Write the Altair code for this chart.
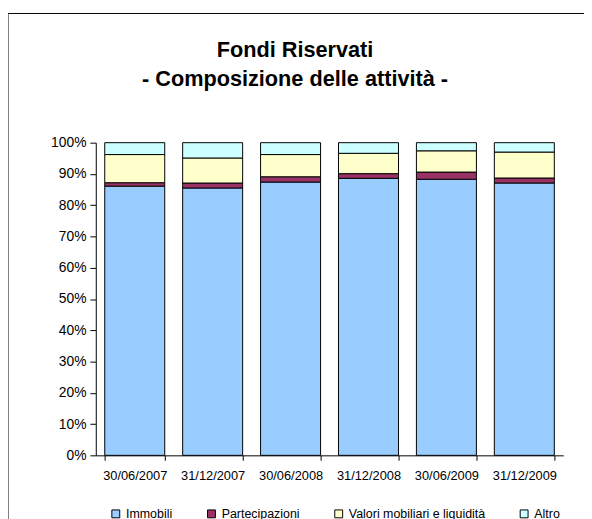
import altair as alt
import pandas as pd

DATES = ["30/06/2007", "31/12/2007", "30/06/2008", "31/12/2008", "30/06/2009", "31/12/2009"]
SERIES = ["Immobili", "Partecipazioni", "Valori mobiliari e liquidità", "Altro"]
IMMOBILI = [86.1, 85.5, 87.4, 88.6, 88.3, 87.1]
PARTECIPAZIONI = [1.1, 1.6, 1.7, 1.5, 2.3, 1.6]
VALORI = [9.0, 8.0, 7.1, 6.5, 6.8, 8.3]
ALTRO = [3.8, 4.9, 3.8, 3.4, 2.6, 3.0]
COLORS = ["#99CCFF", "#993366", "#FFFFCC", "#CCFFFF"]
TITLE_LINES = ["Fondi Riservati", "- Composizione delle attività -"]
Y_TICKS = [0, 0.1, 0.2, 0.3, 0.4, 0.5, 0.6, 0.7, 0.8, 0.9, 1.0]

rows = []
for s_i, (name, vals) in enumerate(zip(SERIES, [IMMOBILI, PARTECIPAZIONI, VALORI, ALTRO])):
    for d, v in zip(DATES, vals):
        rows.append({"data": d, "serie": name, "quota": v / 100.0, "ordine": s_i})
df = pd.DataFrame(rows)

FONT = "Liberation Sans"

bars = alt.Chart(df).mark_bar(stroke="black", strokeWidth=1).encode(
    x=alt.X("data:N", sort=DATES, title=None,
            scale=alt.Scale(paddingInner=0.23, paddingOuter=0.115),
            axis=alt.Axis(labelAngle=0, tickBand="extent", labelFontSize=13,
                          labelFont=FONT, labelColor="black", domainColor="black",
                          tickColor="black", tickSize=5, labelPadding=9)),
    y=alt.Y("quota:Q", stack="zero", title=None,
            scale=alt.Scale(domain=[0, 1], nice=False),
            axis=alt.Axis(format=".0%", values=Y_TICKS, grid=False, labelFontSize=14,
                          labelFont=FONT, labelColor="black", domainColor="black",
                          tickColor="black", tickSize=6, labelPadding=4)),
    color=alt.Color("serie:N", sort=SERIES,
                    scale=alt.Scale(domain=SERIES, range=COLORS),
                    legend=alt.Legend(title=None, orient="none", direction="horizontal",
                                      legendX=14, legendY=370, symbolType="square",
                                      symbolSize=64, symbolStrokeColor="black",
                                      symbolStrokeWidth=1, labelFontSize=12.6,
                                      labelFont=FONT, labelColor="black",
                                      labelOffset=4, columnPadding=33, padding=0)),
    order=alt.Order("ordine:Q", sort="ascending"),
)

title_df = pd.DataFrame({"testo": TITLE_LINES, "riga": [0, 1]})
title1 = alt.Chart(title_df[title_df.riga == 0]).mark_text(
    fontSize=22, fontWeight="bold", font=FONT, color="black", baseline="middle", align="center"
).encode(text="testo:N", x=alt.value(202), y=alt.value(-94))
title2 = alt.Chart(title_df[title_df.riga == 1]).mark_text(
    fontSize=22, fontWeight="bold", font=FONT, color="black", baseline="middle", align="center"
).encode(text="testo:N", x=alt.value(202), y=alt.value(-64))

frame_df = pd.DataFrame({"f": [0]})
frame_top = alt.Chart(frame_df).mark_rule(color="black", strokeWidth=1).encode(
    x=alt.value(-89), x2=alt.value(600), y=alt.value(-131))
frame_left = alt.Chart(frame_df).mark_rule(color="black", strokeWidth=1).encode(
    x=alt.value(-89), y=alt.value(-131), y2=alt.value(500))

chart = alt.layer(frame_top, frame_left, bars, title1, title2).properties(
    width=474, height=317,
    autosize=alt.AutoSizeParams(type="none"),
    padding={"left": 89, "top": 133, "right": 21, "bottom": 61},
).configure_view(stroke=None)

chart.save("out.html", embed_options={"renderer": "svg", "actions": False})
